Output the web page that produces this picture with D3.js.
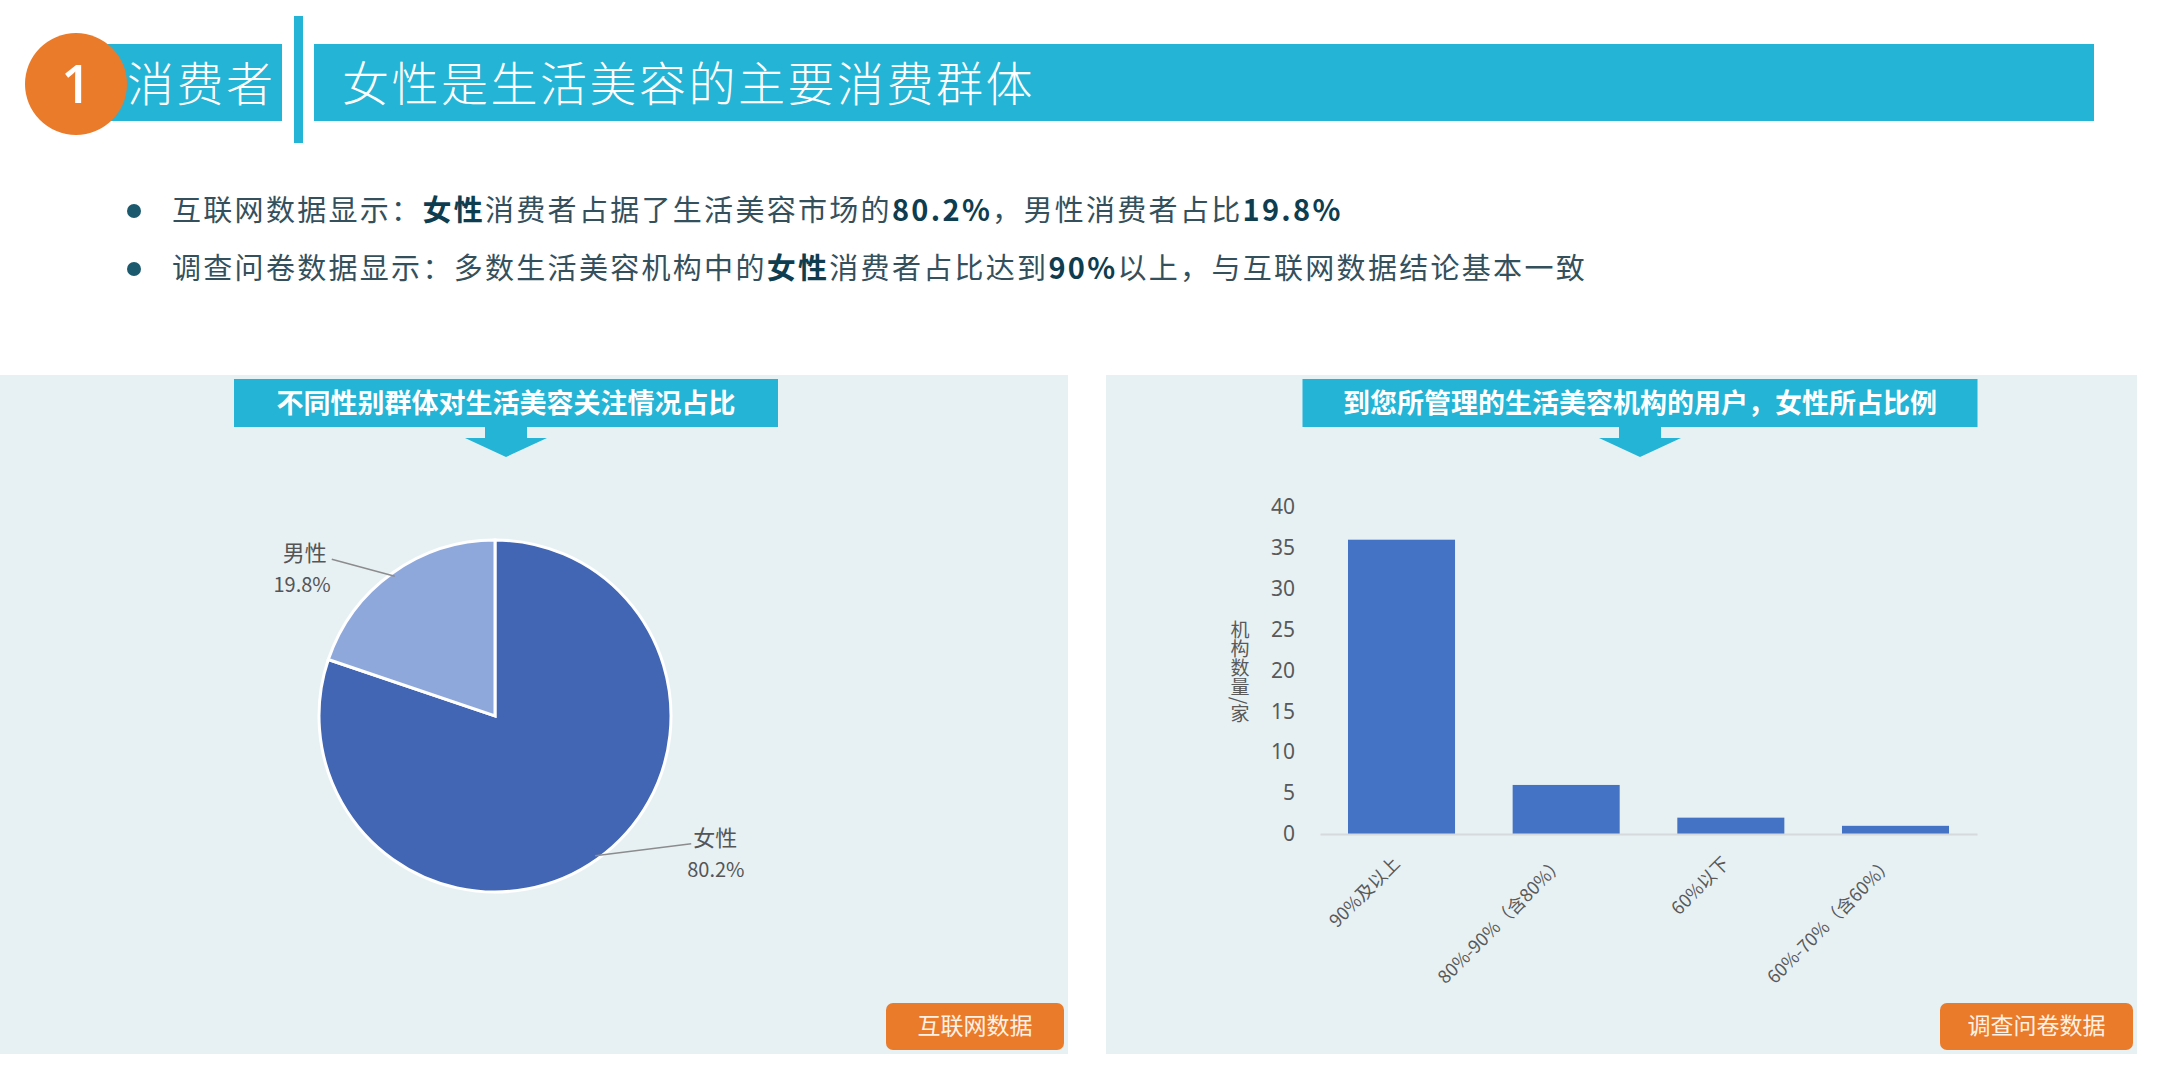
<!DOCTYPE html>
<meta charset="utf-8">
<head>
<script src="https://cdn.jsdelivr.net/npm/d3@7"></script>
<style>
  body { margin: 0; background: #ffffff; }
  svg { display: block; font-family: "Noto Sans CJK SC", "Noto Sans", sans-serif; }
</style>
</head>
<body>
<div id="chart"></div>
<script>
// data
var pieLabels = ["女性", "男性"];
var pieValues = [80.2, 19.8];

var barCategories = ["90%及以上", "80%-90%（含80%）", "60%以下", "60%-70%（含60%）"];
var barValues = [36, 6, 2, 1];
var yTicks = [0, 5, 10, 15, 20, 25, 30, 35, 40];

// bullet text, [text, bold]
var bullet1 = [["互联网数据显示：", 0], ["女性", 1], ["消费者占据了生活美容市场的", 0], ["80.2%", 1], ["，男性消费者占比", 0], ["19.8%", 1]];
var bullet2 = [["调查问卷数据显示：多数生活美容机构中的", 0], ["女性", 1], ["消费者占比达到", 0], ["90%", 1], ["以上，与互联网数据结论基本一致", 0]];

var W = 2160, H = 1080;
var blue = "#23b4d6", orange = "#ea7b2b", panelBg = "#e7f1f4";

var svg = d3.select("#chart").append("svg")
    .attr("width", W)
    .attr("height", H);

// ---- header ----
svg.append("rect").attr("x", 100).attr("y", 44).attr("width", 182).attr("height", 77).attr("fill", blue);
svg.append("rect").attr("x", 294).attr("y", 16).attr("width", 9).attr("height", 127).attr("fill", blue);
svg.append("rect").attr("x", 314).attr("y", 44).attr("width", 1780).attr("height", 77).attr("fill", blue);
svg.append("circle").attr("cx", 76).attr("cy", 84).attr("r", 51).attr("fill", orange);
svg.append("text").attr("x", 76).attr("y", 84).attr("dy", "0.36em")
    .attr("text-anchor", "middle").attr("fill", "#fff")
    .style("font-size", "52px").style("font-family", "'Open Sans', sans-serif").style("font-weight", 600)
    .text("1");
svg.append("text").attr("x", 127).attr("y", 84).attr("dy", "0.36em")
    .attr("fill", "#fff").style("font-size", "47px").style("font-weight", 300).style("letter-spacing", "2.5px")
    .text("消费者");
svg.append("text").attr("x", 342).attr("y", 84).attr("dy", "0.36em")
    .attr("fill", "#fff").style("font-size", "47px").style("font-weight", 300).style("letter-spacing", "2.5px")
    .text("女性是生活美容的主要消费群体");

// ---- bullets ----
function bullet(y, parts) {
  svg.append("circle").attr("cx", 134).attr("cy", y).attr("r", 7).attr("fill", "#1b5a6e");
  var t = svg.append("text").attr("x", 172).attr("y", y).attr("dy", "0.36em")
      .style("font-size", "29px").style("letter-spacing", "2.3px");
  t.selectAll("tspan").data(parts).enter().append("tspan")
      .attr("fill", function(d) { return d[1] ? "#0f3d50" : "#34505d"; })
      .style("font-weight", function(d) { return d[1] ? 700 : 400; })
      .text(function(d) { return d[0]; });
}
bullet(211, bullet1);
bullet(269, bullet2);

// ---- panels ----
function panel(x, w, title, cx, boxW, badge, badgeW) {
  svg.append("rect").attr("x", x).attr("y", 375).attr("width", w).attr("height", 679).attr("fill", panelBg);
  svg.append("rect").attr("x", cx - boxW / 2).attr("y", 379).attr("width", boxW).attr("height", 48).attr("fill", blue);
  svg.append("rect").attr("x", cx - 21).attr("y", 426).attr("width", 42).attr("height", 13).attr("fill", blue);
  svg.append("path").attr("d", "M" + (cx - 41) + ",438L" + (cx + 41) + ",438L" + cx + ",457Z").attr("fill", blue);
  svg.append("text").attr("x", cx).attr("y", 403).attr("dy", "0.36em").attr("text-anchor", "middle")
      .attr("fill", "#fff").style("font-size", "27px").style("font-weight", 700)
      .text(title);
  var bx = x + w - 4 - badgeW;
  svg.append("rect").attr("x", bx).attr("y", 1003).attr("width", badgeW).attr("height", 47)
      .attr("rx", 7).attr("fill", orange);
  svg.append("text").attr("x", bx + badgeW / 2).attr("y", 1026).attr("dy", "0.36em").attr("text-anchor", "middle")
      .attr("fill", "#fff1e3").style("font-size", "23px")
      .text(badge);
}
panel(0, 1068, "不同性别群体对生活美容关注情况占比", 506, 544, "互联网数据", 178);
panel(1106, 1031, "到您所管理的生活美容机构的用户，女性所占比例", 1640, 675, "调查问卷数据", 193);

// ---- pie ----
var pieCx = 495, pieCy = 716, pieR = 176;
var pie = d3.pie().sort(null).value(function(d) { return d; });
var arc = d3.arc().innerRadius(0).outerRadius(pieR);
var pieColors = d3.scaleOrdinal().domain(pieLabels).range(["#4266b3", "#8fa8dc"]);
var arcs = pie(pieValues);

var pg = svg.append("g").attr("transform", "translate(" + pieCx + "," + pieCy + ")");
pg.selectAll("path").data(arcs).enter().append("path")
    .attr("d", arc)
    .attr("fill", function(d, i) { return pieColors(pieLabels[i]); })
    .attr("stroke", "#fff").attr("stroke-width", 3);

// callout labels
pg.selectAll(".lbl").data(arcs).enter().append("g").attr("class", "lbl").each(function(d, i) {
  var a = (d.startAngle + d.endAngle) / 2;
  var px = Math.sin(a) * (pieR - 4), py = -Math.cos(a) * (pieR - 4);
  var right = px > 0;
  var ex = px + (right ? 96 : -63), ey = py + (right ? -12 : -17);
  var g = d3.select(this);
  g.append("line").attr("x1", px).attr("y1", py).attr("x2", ex).attr("y2", ey)
      .attr("stroke", "#8c8c8c").attr("stroke-width", 1.5);
  var tx = right ? ex + 2 : ex - 5;
  g.append("text").attr("x", tx).attr("y", ey - 6).attr("dy", "0.36em")
      .attr("text-anchor", right ? "start" : "end")
      .attr("fill", "#555").style("font-size", "22px")
      .text(pieLabels[i]);
  g.append("text").attr("x", right ? tx - 6 : tx + 4).attr("y", ey + 26).attr("dy", "0.36em")
      .attr("text-anchor", right ? "start" : "end")
      .attr("fill", "#555").style("font-size", "20px")
      .text(d3.format(".1f")(pieValues[i]) + "%");
});

// ---- bar chart ----
var x = d3.scaleBand().domain(barCategories).range([1320, 1977]).paddingInner(0.35).paddingOuter(0.17);
var y = d3.scaleLinear().domain([0, 40]).range([834, 507]);

svg.selectAll(".bar").data(barValues).enter().append("rect")
    .attr("class", "bar")
    .attr("x", function(d, i) { return x(barCategories[i]); })
    .attr("y", function(d) { return y(d); })
    .attr("width", x.bandwidth())
    .attr("height", function(d) { return y(0) - y(d); })
    .attr("fill", "#4472c4");

var yAxis = svg.append("g").attr("transform", "translate(1320,0)")
    .call(d3.axisLeft(y).tickValues(yTicks).tickSize(0).tickPadding(25));
yAxis.select(".domain").remove();
yAxis.selectAll("text").attr("fill", "#595959").style("font-size", "21px")
    .style("font-family", "'Noto Sans', sans-serif");

var xAxis = svg.append("g").attr("transform", "translate(0," + y(0) + ")")
    .call(d3.axisBottom(x).tickSize(0).tickSizeOuter(0));
xAxis.select(".domain").attr("stroke", "#d6dadc").attr("stroke-width", 2);
xAxis.selectAll("text")
    .attr("x", 0).attr("y", 0).attr("dy", "0.36em")
    .attr("text-anchor", "end")
    .attr("transform", "translate(-5,26) rotate(-45)")
    .attr("fill", "#595959").style("font-size", "18px")
    .style("font-family", "'Noto Sans CJK SC', sans-serif");

svg.append("text").attr("x", 1240).attr("y", 672)
    .attr("text-anchor", "middle")
    .style("writing-mode", "vertical-rl")
    .attr("fill", "#595959").style("font-size", "19px")
    .text("机构数量/家");
</script>
</body>
</html>
